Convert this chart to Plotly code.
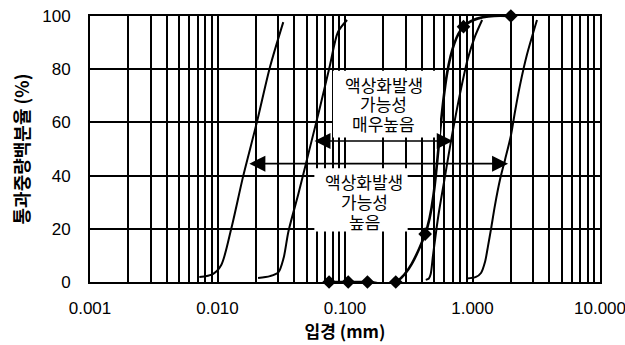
import math
import plotly.graph_objects as go

# ---- data ----
sieve_mm = [0.075, 0.106, 0.15, 0.25, 0.425, 0.85, 2.0]
passing_pct = [0, 0, 0, 0, 18, 96, 100]

# boundary curves of liquefaction-prone gradation ranges
curveA_x = [0.0072, 0.0092, 0.0107, 0.0128, 0.0159, 0.0204, 0.0258, 0.0328]
curveA_y = [1.9, 3.0, 6.4, 19.9, 39.8, 60.2, 80.8, 97.7]

curveB_x = [0.0208, 0.0258, 0.0300, 0.0330, 0.0360, 0.0430, 0.0513, 0.0637, 0.0763, 0.0881, 0.1038]
curveB_y = [1.5, 2.2, 3.6, 9.0, 19.0, 33.0, 47.7, 65.8, 81.6, 94.0, 98.5]

curveC_x = [0.43, 0.455, 0.47, 0.49, 0.54, 0.61, 0.69, 0.80, 0.92, 1.05, 1.19]
curveC_y = [0.8, 1.3, 3.0, 10.0, 25.0, 40.0, 55.0, 71.0, 84.0, 92.5, 98.5]

curveE_x = [0.905, 1.065, 1.166, 1.253, 1.323, 1.397, 1.501, 1.644, 1.80, 2.0, 2.154, 2.358, 2.675, 3.205]
curveE_y = [1.3, 1.9, 3.4, 7.5, 13.5, 19.9, 28.9, 38.5, 46.0, 55.0, 64.0, 74.0, 85.5, 98.5]

x_tick_vals = [0.001, 0.01, 0.1, 1, 10]
y_tick_vals = [0, 20, 40, 60, 80, 100]

# range annotations (text lines, centre x in mm, line y in %)
very_high_lines = ["액상화발생", "가능성", "매우높음"]
very_high_pos = dict(x=0.202, y=[74.4, 67.1, 59.6])
high_lines = ["액상화발생", "가능성", "높음"]
high_pos = dict(x=0.141, y=[37.6, 30.1, 22.6])
very_high_arrow = dict(y=53, x_left=0.0561, x_right=0.70)
high_arrow = dict(y=44.5, x_left=0.0173, x_right=1.90)

fig = go.Figure()

for cx, cy in [(curveA_x, curveA_y), (curveB_x, curveB_y), (curveC_x, curveC_y), (curveE_x, curveE_y)]:
    fig.add_trace(go.Scatter(
        x=cx, y=cy, mode="lines",
        line=dict(color="black", width=2, shape="spline", smoothing=0.8),
        hoverinfo="skip", showlegend=False))

fig.add_trace(go.Scatter(
    x=sieve_mm, y=passing_pct, mode="lines+markers",
    line=dict(color="black", width=2.6, shape="spline", smoothing=1),
    marker=dict(symbol="diamond", size=10.5, color="black"),
    cliponaxis=False, showlegend=False))

# white label boxes (cover the grid)
fig.add_shape(type="rect", xref="x", yref="y", x0=0.0805, x1=0.556, y0=54.3, y1=79.4,
              fillcolor="white", line=dict(width=0), layer="above")
fig.add_shape(type="rect", xref="x", yref="y", x0=0.0575, x1=0.31, y0=19.0, y1=42.8,
              fillcolor="white", line=dict(width=0), layer="above")

kfont = dict(family="Noto Sans CJK KR", size=17, color="black")
for lines, pos in ((very_high_lines, very_high_pos), (high_lines, high_pos)):
    for t, yy in zip(lines, pos["y"]):
        fig.add_annotation(x=math.log10(pos["x"]), y=yy, text=t, showarrow=False,
                           font=kfont, xref="x", yref="y")

for a in (very_high_arrow, high_arrow):
    fig.add_annotation(
        x=math.log10(a["x_right"]), y=a["y"], ax=math.log10(a["x_left"]), ay=a["y"],
        xref="x", yref="y", axref="x", ayref="y", text="", showarrow=True,
        arrowhead=2, startarrowhead=2, arrowside="end+start",
        arrowsize=2, startarrowsize=2, arrowwidth=1.6, arrowcolor="black",
        standoff=0, startstandoff=0)

tfont = dict(family="Liberation Sans", size=17, color="black")
fig.update_xaxes(
    type="log", range=[-3, 1], tickvals=x_tick_vals, tickformat=".3f",
    showgrid=True, gridcolor="black", gridwidth=1.8,
    minor=dict(tickvals=[m * d for d in [0.001, 0.01, 0.1, 1] for m in range(2, 10)],
               showgrid=True, gridcolor="black", gridwidth=1.8, ticks=""),
    showline=True, linecolor="black", linewidth=2, mirror=True, ticks="",
    tickfont=tfont, ticklabelstandoff=10, ticklabeloverflow="allow", automargin=False,
    title=dict(text="<b>입경 (mm)</b>", font=dict(family="Noto Sans CJK KR", size=17, color="black"),
               standoff=8),
    zeroline=False)
fig.update_yaxes(
    range=[0, 100], tickvals=y_tick_vals,
    showgrid=True, gridcolor="black", gridwidth=1.8,
    showline=True, linecolor="black", linewidth=2, mirror=True, ticks="",
    tickfont=tfont, ticklabelstandoff=14, ticklabeloverflow="allow", automargin=False,
    title=dict(text="<b>통과중량백분율 (%)</b>", font=dict(family="Noto Sans CJK KR", size=18, color="black"),
               standoff=8),
    zeroline=False)

fig.update_layout(
    width=625, height=345, margin=dict(l=90, r=25, t=16, b=63, autoexpand=False),
    paper_bgcolor="white", plot_bgcolor="white", showlegend=False)

fig.write_html("out.html", config={"displayModeBar": False},
               post_script="document.body.style.margin='0px';document.body.style.overflow='hidden';")
